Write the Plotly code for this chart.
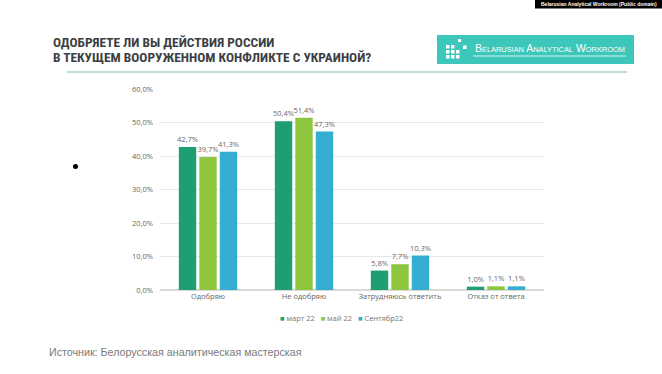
import plotly.graph_objects as go

categories = ["Одобряю", "Не одобряю", "Затрудняюсь ответить", "Отказ от ответа"]
series_names = ["март 22", "май 22", "Сентябр22"]
mar22 = [42.7, 50.4, 5.8, 1.0]
may22 = [39.7, 51.4, 7.7, 1.1]
sep22 = [41.3, 47.3, 10.3, 1.1]
colors = ["#1f9e72", "#8dc63f", "#33aed0"]
y_ticks = [0, 10, 20, 30, 40, 50, 60]
y_tick_labels = ["0,0%", "10,0%", "20,0%", "30,0%", "40,0%", "50,0%", "60,0%"]

fig = go.Figure()
for name, vals, c in zip(series_names, [mar22, may22, sep22], colors):
    fig.add_trace(go.Bar(
        x=categories, y=vals, name=name, marker=dict(color=c, line=dict(width=0)),
        text=vals, texttemplate="%{y:.1f}%", textposition="outside",
        constraintext="none",
        textfont=dict(size=7.5, color="#666666", family="Open Sans"), cliponaxis=False,
        showlegend=False,
    ))

W, H = 662, 374
fig.update_layout(
    width=W, height=H,
    margin=dict(l=160, r=118, t=89, b=84),
    paper_bgcolor="white", plot_bgcolor="white",
    separators=", ",
    barmode="group", bargap=0.36, bargroupgap=0.15,
    showlegend=False,
    xaxis=dict(showline=False, ticks="", tickfont=dict(size=7.5, color="#666666", family="Open Sans"),
               showgrid=False),
    yaxis=dict(range=[0, 60], tickvals=y_ticks, ticktext=y_tick_labels,
               showgrid=True, gridcolor="#e8e8e8", gridwidth=1, zeroline=True,
               zerolinecolor="#d9d9d9", tickfont=dict(size=7.5, color="#666666", family="Open Sans"),
               ticks="", ticklabelstandoff=6),
    font=dict(family="Open Sans"),
)

def px(x):
    return (x - 160) / 384

def py(y):
    return 1 + (89 - y) / 201

# Title
for txt, yy in [("ОДОБРЯЕТЕ ЛИ ВЫ ДЕЙСТВИЯ РОССИИ", 42), ("В ТЕКУЩЕМ ВООРУЖЕННОМ КОНФЛИКТЕ С УКРАИНОЙ?", 57)]:
    fig.add_annotation(xref="paper", yref="paper", x=px(51), y=py(yy),
                       xanchor="left", yanchor="middle", align="left", showarrow=False,
                       text="<b>" + txt + "</b>",
                       font=dict(size=13.4, color="#3b3f44", family="Roboto Condensed, Roboto"))

# Divider line under header
fig.add_shape(type="line", xref="paper", yref="paper", x0=px(67), x1=px(627), y0=py(72), y1=py(72),
              line=dict(color="#a9d3c8", width=1.5))

# Logo box
fig.add_shape(type="rect", xref="paper", yref="paper", x0=px(437), x1=px(634), y0=py(64), y1=py(35),
              fillcolor="#3cc7ba", line=dict(width=0), layer="above")
fig.add_shape(type="line", xref="paper", yref="paper", x0=px(473), x1=px(626), y0=py(56), y1=py(56),
              line=dict(color="white", width=0.8))
fig.add_annotation(xref="paper", yref="paper", x=px(473), y=py(48.5), xanchor="left", yanchor="middle",
                   showarrow=False,
                   text="B<span style='font-size:7.4px'>ELARUSIAN</span> A<span style='font-size:7.4px'>NALYTICAL</span> W<span style='font-size:7.4px'>ORKROOM</span>",
                   font=dict(size=10.5, color="white", family="Liberation Sans"))
icon = [(446, 45), (451, 45), (446, 50), (451, 50), (456, 50), (446, 55), (451, 55), (456, 55)]
for (ix, iy) in icon:
    fig.add_shape(type="rect", xref="paper", yref="paper", x0=px(ix), x1=px(ix + 3.5),
                  y0=py(iy + 3.5), y1=py(iy), fillcolor="white", line=dict(width=0), layer="above")
fig.add_shape(type="rect", xref="paper", yref="paper", x0=px(458), x1=px(461), y0=py(42), y1=py(39),
              fillcolor="white", line=dict(width=0), layer="above")
fig.add_shape(type="rect", xref="paper", yref="paper", x0=px(463), x1=px(466.5), y0=py(49), y1=py(45.5),
              fillcolor="white", line=dict(width=0), layer="above")

# Legend (compact, as in the reference)
legend_text = "   ".join(
    "<span style='color:%s'>■</span> %s" % (c, n) for c, n in zip(colors, series_names)
)
fig.add_annotation(xref="paper", yref="paper", x=px(341), y=py(318), xanchor="center", yanchor="middle",
                   showarrow=False, text=legend_text,
                   font=dict(size=7.5, color="#777777", family="Open Sans"))

# Bullet dot
fig.add_shape(type="circle", xref="paper", yref="paper", x0=px(73), x1=px(78), y0=py(169), y1=py(164),
              fillcolor="black", line=dict(width=0))

# Source
fig.add_annotation(xref="paper", yref="paper", x=px(47), y=py(352), xanchor="left", yanchor="middle",
                   showarrow=False, text="Источник: Белорусская аналитическая мастерская",
                   font=dict(size=10.7, color="#7a7a7a", family="Liberation Sans"))

# Credit label top-right
fig.add_shape(type="rect", xref="paper", yref="paper", x0=px(535), x1=px(662), y0=py(8.5), y1=py(0),
              fillcolor="black", line=dict(width=0))
fig.add_annotation(xref="paper", yref="paper", x=px(598.5), y=py(4.3), xanchor="center", yanchor="middle",
                   showarrow=False, text="<b>Belarusian Analytical Workroom (Public domain)</b>",
                   font=dict(size=5, color="white", family="Liberation Sans"))

fig.write_html("out.html", config={"displayModeBar": False},
               post_script="document.body.style.margin='0';document.body.style.overflow='hidden';")
